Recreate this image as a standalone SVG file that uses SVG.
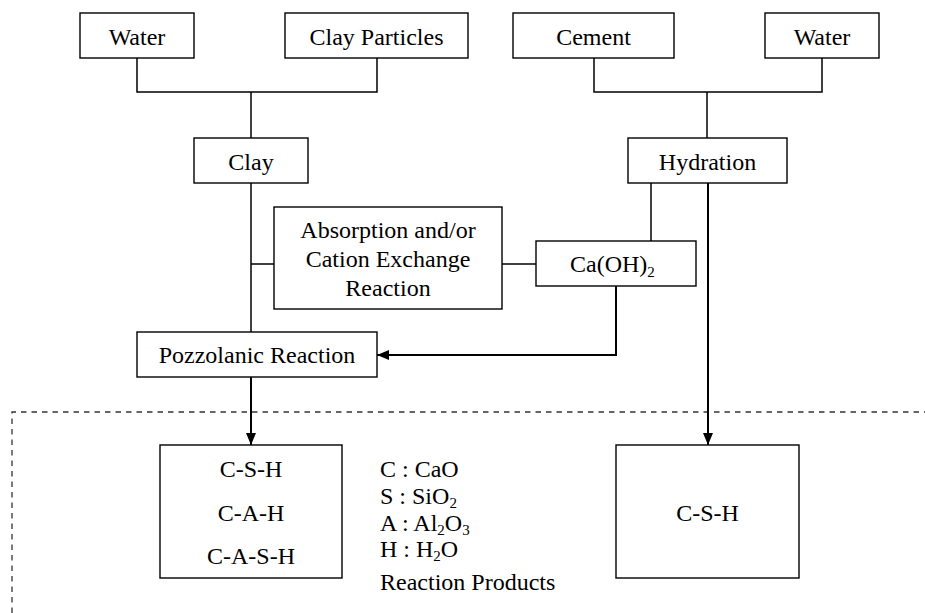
<svg xmlns="http://www.w3.org/2000/svg" width="925" height="613" viewBox="0 0 925 613">
<style>
  .box { fill: #fff; stroke: #000; stroke-width: 1.4; }
  text { font-family: 'Liberation Serif', 'Times New Roman', serif; font-size: 24px; fill: #000; }
  .c { text-anchor: middle; }
  .sub { font-size: 15px; }
  .ln { fill: none; stroke: #000; stroke-width: 1.5; }
  .ar { fill: none; stroke: #000; stroke-width: 2; }
  .dash { fill: none; stroke: #333; stroke-width: 1.3; stroke-dasharray: 5.5 5; }
</style>
<defs>
  <marker id="ah" viewBox="0 0 12 10" refX="12" refY="5" markerWidth="12" markerHeight="10" markerUnits="userSpaceOnUse" orient="auto">
    <path d="M0,0 L12,5 L0,10 Z" fill="#000"/>
  </marker>
</defs>
<rect width="925" height="613" fill="#fff"/>
<path class="dash" d="M12,613 V412 H925"/>
<g id="connectors">
  <path class="ln" d="M137,58 V92 H377 V58"/>
  <path class="ln" d="M251,92 V138"/>
  <path class="ln" d="M594,58 V92 H822 V58"/>
  <path class="ln" d="M707,92 V138"/>
  <path class="ln" d="M251,183 V332"/>
  <path class="ln" d="M251,264 H274"/>
  <path class="ln" d="M502,264 H536"/>
  <path class="ln" d="M651,183 V241"/>
  <path class="ar" d="M616,286 V355 H377" marker-end="url(#ah)"/>
  <path class="ar" d="M251,377 V445" marker-end="url(#ah)"/>
  <path class="ar" d="M708,183 V445" marker-end="url(#ah)"/>
</g>
<g id="water1"><rect class="box" x="80" y="13" width="114" height="45"/><text class="c" x="137" y="45">Water</text></g>
<g id="clayParticles"><rect class="box" x="285" y="13" width="183" height="45"/><text class="c" x="376.5" y="45">Clay Particles</text></g>
<g id="cement"><rect class="box" x="513" y="13" width="161" height="45"/><text class="c" x="593.5" y="45">Cement</text></g>
<g id="water2"><rect class="box" x="765" y="13" width="114" height="45"/><text class="c" x="822" y="45">Water</text></g>
<g id="clay"><rect class="box" x="194" y="138" width="114" height="45"/><text class="c" x="251" y="170">Clay</text></g>
<g id="hydration"><rect class="box" x="628" y="138" width="159" height="45"/><text class="c" x="707.5" y="170">Hydration</text></g>
<g id="absorption"><rect class="box" x="274" y="207" width="228" height="102"/>
  <text class="c" x="388" y="238">Absorption and/or</text>
  <text class="c" x="388" y="267">Cation Exchange</text>
  <text class="c" x="388" y="296">Reaction</text>
</g>
<g id="caoh2"><rect class="box" x="536" y="241" width="160" height="45"/><text x="570" y="272">Ca(OH)<tspan class="sub" dy="5">2</tspan></text></g>
<g id="pozzolanic"><rect class="box" x="137" y="332" width="240" height="45"/><text class="c" x="257" y="363">Pozzolanic Reaction</text></g>
<g id="products1"><rect class="box" x="160" y="445" width="182" height="133"/>
  <text class="c" x="251" y="477">C-S-H</text>
  <text class="c" x="251" y="521">C-A-H</text>
  <text class="c" x="251" y="564">C-A-S-H</text>
</g>
<g id="legend">
  <text x="380" y="477">C : CaO</text>
  <text x="380" y="504">S : SiO<tspan class="sub" dy="4">2</tspan></text>
  <text x="380" y="531">A : Al<tspan class="sub" dy="4">2</tspan><tspan dy="-4">O</tspan><tspan class="sub" dy="4">3</tspan></text>
  <text x="380" y="557">H : H<tspan class="sub" dy="4">2</tspan><tspan dy="-4">O</tspan></text>
  <text x="380" y="590">Reaction Products</text>
</g>
<g id="products2"><rect class="box" x="616" y="445" width="183" height="133"/><text class="c" x="707.5" y="521">C-S-H</text></g>
</svg>
